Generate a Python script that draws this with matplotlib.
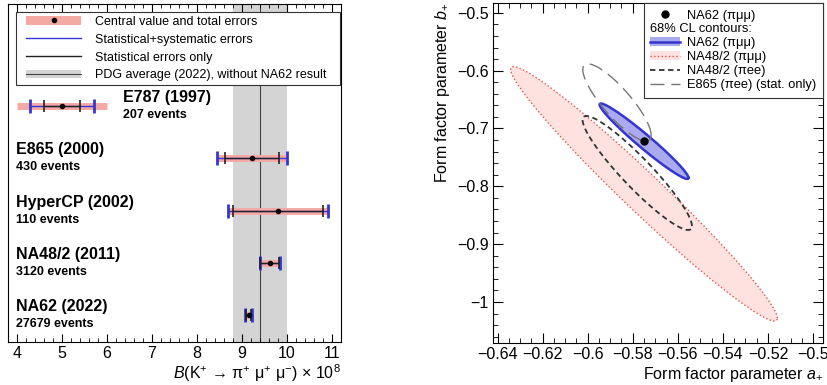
import numpy as np
import matplotlib
matplotlib.use("Agg")
import matplotlib.pyplot as plt
from matplotlib.lines import Line2D
from matplotlib.patches import Patch
from matplotlib.ticker import MultipleLocator
from matplotlib.legend_handler import HandlerTuple, HandlerLine2D

plt.rcParams['font.family'] = ['Liberation Sans', 'DejaVu Sans']
plt.rcParams['mathtext.fontset'] = 'custom'
plt.rcParams['mathtext.rm'] = 'Liberation Sans'
plt.rcParams['mathtext.it'] = 'Liberation Sans:italic'
plt.rcParams['mathtext.bf'] = 'Liberation Sans:bold'

# --- branching ratio measurements (x 1e-8) ---
experiments = ["E787 (1997)", "E865 (2000)", "HyperCP (2002)", "NA48/2 (2011)", "NA62 (2022)"]
n_events = ["207 events", "430 events", "110 events", "3120 events", "27679 events"]
central = [5.0, 9.22, 9.8, 9.62, 9.15]
err_stat = [0.40, 0.60, 1.00, 0.21, 0.06]
err_statsyst = [0.72, 0.77, 1.12, 0.23, 0.08]
err_total = [1.00, 0.77, 1.12, 0.25, 0.08]

pdg_value = 9.4
pdg_error = 0.6

# --- form factor fits (a+, b+) ---
ff_names = ["NA48/2 (πμμ)", "NA48/2 (πee)", "NA62 (πμμ)", "E865 (πee) (stat. only)"]
ff_a = [-0.575, -0.578, -0.575, -0.587]
ff_sa = [0.039, 0.016, 0.013, 0.010]
ff_b = [-0.813, -0.777, -0.722, -0.655]
ff_sb = [0.145, 0.065, 0.043, 0.044]
ff_rho = [-0.978, -0.93, -0.972, -0.85]
dchi2 = 2.30  # 68% CL for two parameters

na62_point = (-0.575, -0.722)


def ellipse(a0, sa, b0, sb, rho, scale):
    t = np.linspace(0, 2 * np.pi, 300)
    x = a0 + scale * sa * np.cos(t)
    y = b0 + scale * sb * (rho * np.cos(t) + np.sqrt(1 - rho**2) * np.sin(t))
    return x, y


fig = plt.figure(figsize=(8.27, 3.85), dpi=100)

# ================= left panel =================
ax1 = fig.add_axes([8/827, 43/385, 333/827, 338/385])
rows = np.arange(len(experiments), 0, -1)
pink = '#f5a9a3'
blue = '#3535d5'

ax1.axvspan(pdg_value - pdg_error, pdg_value + pdg_error, color='#d4d4d4', lw=0, zorder=0)
ax1.axvline(pdg_value, color='#444444', lw=0.8, zorder=1)

for i in range(len(experiments)):
    y = rows[i]
    c = central[i]
    ax1.plot([c - err_total[i], c + err_total[i]], [y, y], color=pink, lw=5,
             solid_capstyle='butt', zorder=2)
    ax1.errorbar(c, y, xerr=err_statsyst[i], fmt='none', ecolor=blue, elinewidth=1,
                 capsize=5, capthick=2, zorder=3)
    ax1.errorbar(c, y, xerr=err_stat[i], fmt='none', ecolor='#222222', elinewidth=1,
                 capsize=4, capthick=1.2, zorder=4)
    ax1.plot(c, y, 'o', color='k', ms=3, zorder=5)

    # labels go to the right of the bar when it sits on the left side
    if c - err_total[i] < 6.5:
        lx = c + err_total[i] + 0.35
    else:
        lx = 3.97
    ax1.text(lx, y + 0.16, experiments[i], fontsize=11.5, fontweight='bold',
             ha='left', va='center')
    ax1.text(lx, y - 0.17, n_events[i], fontsize=9, fontweight='bold',
             ha='left', va='center')

ax1.set_xlim(3.8, 11.2)
ax1.set_ylim(0.49, 6.95)
ax1.set_yticks([])
ax1.xaxis.set_major_locator(MultipleLocator(1))
ax1.xaxis.set_minor_locator(MultipleLocator(0.2))
ax1.tick_params(axis='x', which='both', direction='in', top=True, labelsize=11.5, pad=3)
ax1.tick_params(axis='x', which='major', length=6)
ax1.tick_params(axis='x', which='minor', length=3)
ax1.set_xlabel(r"$B$(K$^{+}$ → π$^{+}$ μ$^{+}$ μ$^{-}$) × 10$^{8}$", fontsize=11.5,
               loc='right', labelpad=1)

h_total = (Patch(facecolor=pink, edgecolor='none'),
           Line2D([], [], marker='o', color='k', ls='none', ms=3))
h_syst = Line2D([], [], color=blue, lw=1)
h_stat = Line2D([], [], color='#222222', lw=1)
h_pdg = (Patch(facecolor='#d4d4d4', edgecolor='none'), Line2D([], [], color='#444444', lw=0.8))
hpad = 0.53
leg1 = ax1.legend([h_total, h_syst, h_stat, h_pdg],
                  ["Central value and total errors", "Statistical+systematic errors",
                   "Statistical errors only", "PDG average (2022), without NA62 result"],
                  loc='upper left', bbox_to_anchor=(0.024, 0.5, 0.973, 0.476), mode='expand',
                  borderaxespad=0, fontsize=9, handlelength=4.93, handletextpad=1.1,
                  labelspacing=0.47, borderpad=0.3, fancybox=False, framealpha=1,
                  handler_map={tuple: HandlerTuple(ndivide=1, pad=0, xpad=hpad),
                               Line2D: HandlerLine2D(xpad=hpad)})
leg1.get_frame().set_edgecolor('#333333')
leg1.get_frame().set_linewidth(0.8)

# ================= right panel =================
ax2 = fig.add_axes([493/827, 42/385, 330/827, 340/385])
styles = {
    "NA48/2 (πμμ)": dict(fill='#fde2df', edge='#e5524c', ls=':', lw=1.0),
    "NA48/2 (πee)": dict(fill=None, edge='#333333', ls=(0, (3, 2)), lw=1.3),
    "NA62 (πμμ)": dict(fill='#aaaaee', edge='#3434cf', ls='-', lw=1.8),
    "E865 (πee) (stat. only)": dict(fill=None, edge='#777777', ls=(0, (10, 5)), lw=1.0),
}
scale = np.sqrt(dchi2)
curves = []
for i, name in enumerate(ff_names):
    x, y = ellipse(ff_a[i], ff_sa[i], ff_b[i], ff_sb[i], ff_rho[i], scale)
    curves.append((x, y))
    st = styles[name]
    if st['fill'] is not None:
        ax2.fill(x, y, color=st['fill'], lw=0, zorder=1 + i)
for i, name in enumerate(ff_names):
    x, y = curves[i]
    st = styles[name]
    ax2.plot(x, y, color=st['edge'], ls=st['ls'], lw=st['lw'], zorder=10 + i)
ax2.plot(na62_point[0], na62_point[1], 'o', color='k', ms=5, zorder=20)

ax2.set_xlim(-0.642, -0.4956)
ax2.set_ylim(-1.071, -0.483)
ax2.xaxis.set_minor_locator(MultipleLocator(0.005))
ax2.yaxis.set_minor_locator(MultipleLocator(0.02))
ax2.set_xticks(np.arange(-0.64, -0.499, 0.02))
ax2.set_xticklabels(["−0.64", "−0.62", "−0.6", "−0.58", "−0.56", "−0.54", "−0.52", "−0.5"])
ax2.set_yticks(np.arange(-1.0, -0.499, 0.1))
ax2.set_yticklabels(["−1", "−0.9", "−0.8", "−0.7", "−0.6", "−0.5"])
ax2.tick_params(which='both', direction='in', top=True, right=True, labelsize=11.5, pad=3)
ax2.tick_params(which='major', length=7)
ax2.tick_params(which='minor', length=3.5)
ax2.set_xlabel(r"Form factor parameter $a_{+}$", fontsize=11.5, loc='right', labelpad=2)
ax2.set_ylabel(r"Form factor parameter $b_{+}$", fontsize=11.5, loc='top', labelpad=4)

h_pt = Line2D([], [], marker='o', color='k', ls='none', ms=5)
h_blank = Line2D([], [], color='none')
h_na62 = (Patch(facecolor='#aaaaee', edgecolor='none'), Line2D([], [], color='#3434cf', lw=1.8))
h_na48mm = (Patch(facecolor='#fde2df', edgecolor='none'), Line2D([], [], color='#e5524c', ls=':', lw=1.0))
h_na48ee = Line2D([], [], color='#333333', ls=(0, (3, 2)), lw=1.3)
h_e865 = Line2D([], [], color='#777777', ls=(0, (10, 5)), lw=1.0)
leg2 = ax2.legend([h_pt, h_blank, h_na62, h_na48mm, h_na48ee, h_e865],
                  ["NA62 (πμμ)", "68% CL contours:", "NA62 (πμμ)", "NA48/2 (πμμ)",
                   "NA48/2 (πee)", "E865 (πee) (stat. only)"],
                  loc='upper right', borderaxespad=0, fontsize=9.3, handlelength=2.3,
                  handletextpad=0.55, labelspacing=0.15, borderpad=0.5,
                  fancybox=False, framealpha=1)
leg2.get_frame().set_edgecolor('#333333')
leg2.get_frame().set_linewidth(0.8)

# "68% CL contours:" is a heading, start it where the handles start
try:
    row = leg2._legend_handle_box.get_children()[0].get_children()[1]
    row.get_children()[0].width = 0
    row.sep = 0
except Exception as e:
    print("could not shift legend heading:", e)

fig.savefig("out.png", dpi=100)
